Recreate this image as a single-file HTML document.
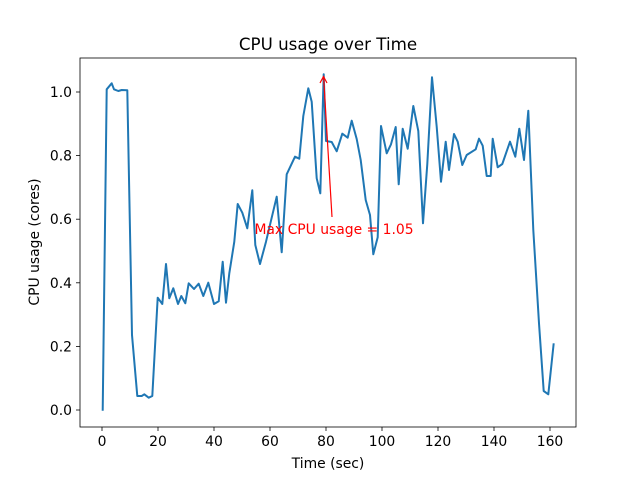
<!DOCTYPE html>
<html><head><meta charset="utf-8"><style>body{margin:0;background:#fff}svg{display:block}text{font-family:"DejaVu Sans","Liberation Sans",sans-serif}</style></head><body>
<svg width="640" height="480" viewBox="0 0 640 480">
<rect width="640" height="480" fill="#fff"/>
<text x="328" y="50" font-size="16.7" text-anchor="middle">CPU usage over Time</text>
<polyline fill="none" stroke="#1f77b4" stroke-width="2" stroke-linejoin="round" points="102.7,410.7 106.7,89.3 111.7,83.3 114,89.3 118.3,91 121.7,90 127.3,90.3 132,335 137.3,396 141.7,396 144.3,394.3 148.7,397.7 152.3,396 157.7,297.7 162.3,304 166,264 169.3,298.3 173.3,288.3 178,304 181.3,296 185.3,303.3 188.7,283.3 194,289 198.7,283.7 203.3,296 208.3,282.7 214,304 218.7,301.3 222.7,261.7 226,302.7 229.3,273.3 234.3,241.7 237.7,204 242.3,212.7 247.3,228.3 252.3,190.3 255.3,245 260,264 266,241.7 276.7,196.7 281.7,252.3 286.7,174.3 295,156.7 299.3,158.7 303.3,116 308.3,88.3 311.7,101.7 316.7,178.3 320.3,193.3 323.7,74.3 326,141 331.7,142 336.7,151.3 342.3,133.7 347.7,137.7 351.7,120.7 356.7,139 360.7,160 365.7,200 370,215 373.3,254.3 377.7,237.3 381,126 386.7,153.3 391,144.3 395.7,127 398.7,184.3 402.7,128.7 407.7,148.7 413.3,106 418.3,131 423,223.3 427.3,164 432,77.3 436.7,126.7 441,181.7 445.7,141.7 449,170 454,134 457.7,141.7 462.3,165 466.7,155 475.7,149.3 479,138.7 482.7,145.7 486.7,176 490.7,176 492.7,138.7 497.7,167.3 502.3,164 510,141.7 515.3,156.7 519.3,128.7 524,160 528.3,110.7 533.3,230 539,323.3 543.7,391 548.3,394.3 553.7,343.3"/>
<line x1="332" y1="217" x2="323.6" y2="77" stroke="red" stroke-width="1.2"/>
<polyline points="320,83 323.5,76.5 327,83" fill="none" stroke="red" stroke-width="1.2"/>
<text x="334" y="234" font-size="13.9" fill="red" text-anchor="middle">Max CPU usage = 1.05</text>
<rect x="80" y="58" width="496" height="369" fill="none" stroke="#000" stroke-width="0.8"/>
<g stroke="#000" stroke-width="0.8">
<line x1="102" y1="427" x2="102" y2="431"/><line x1="158" y1="427" x2="158" y2="431"/><line x1="214" y1="427" x2="214" y2="431"/><line x1="270" y1="427" x2="270" y2="431"/><line x1="326" y1="427" x2="326" y2="431"/><line x1="382" y1="427" x2="382" y2="431"/><line x1="438" y1="427" x2="438" y2="431"/><line x1="494" y1="427" x2="494" y2="431"/><line x1="550" y1="427" x2="550" y2="431"/>
<line x1="76" y1="410" x2="80" y2="410"/><line x1="76" y1="346.4" x2="80" y2="346.4"/><line x1="76" y1="282.8" x2="80" y2="282.8"/><line x1="76" y1="219.2" x2="80" y2="219.2"/><line x1="76" y1="155.6" x2="80" y2="155.6"/><line x1="76" y1="92" x2="80" y2="92"/>
</g>
<g font-size="13.9" text-anchor="middle">
<text x="102" y="446">0</text><text x="158" y="446">20</text><text x="214" y="446">40</text><text x="270" y="446">60</text><text x="326" y="446">80</text><text x="382" y="446">100</text><text x="438" y="446">120</text><text x="494" y="446">140</text><text x="550" y="446">160</text>
</g>
<g font-size="13.9" text-anchor="end">
<text x="72" y="415">0.0</text><text x="72" y="351.4">0.2</text><text x="72" y="287.8">0.4</text><text x="72" y="224.2">0.6</text><text x="72" y="160.6">0.8</text><text x="72" y="97">1.0</text>
</g>
<text x="328" y="468" font-size="13.9" text-anchor="middle">Time (sec)</text>
<text transform="translate(39,242) rotate(-90)" font-size="13.9" text-anchor="middle">CPU usage (cores)</text>
</svg>
</body></html>
